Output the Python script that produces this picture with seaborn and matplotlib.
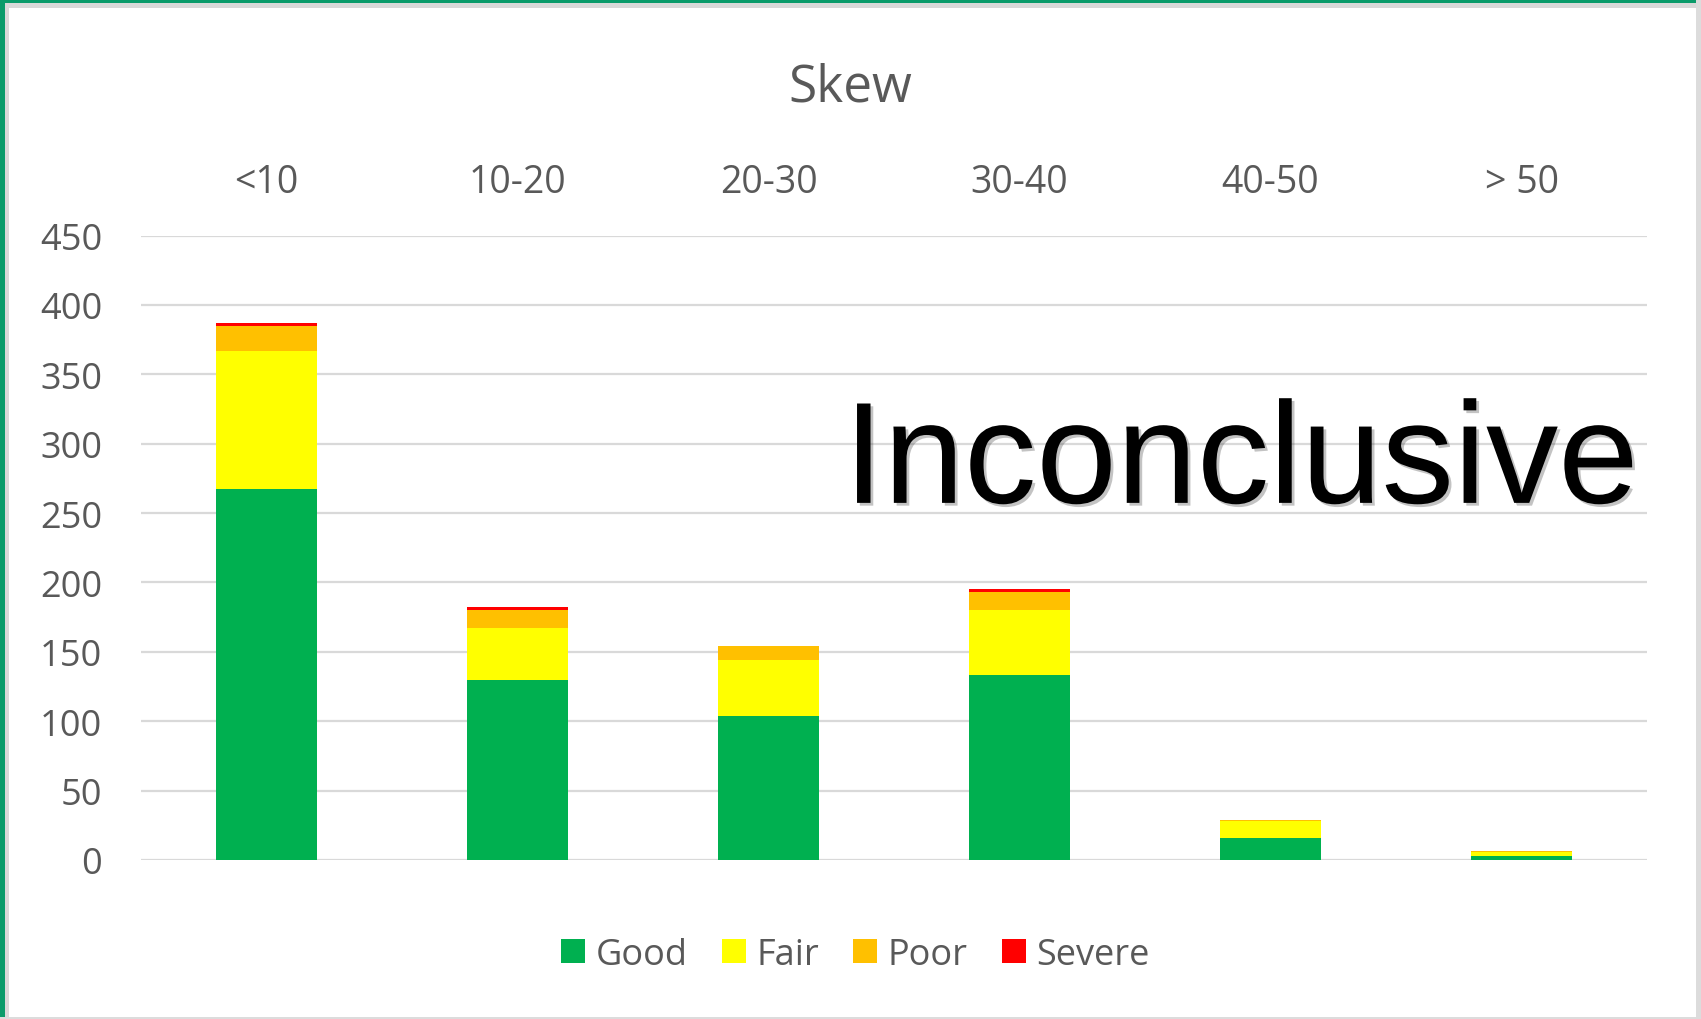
import matplotlib
matplotlib.use("Agg")
import matplotlib.pyplot as plt
import matplotlib.patheffects as pe
from matplotlib.patches import Rectangle, Patch
import numpy as np
import pandas as pd
import seaborn as sns

# data
categories = ['<10', '10-20', '20-30', '30-40', '40-50', '> 50']
good = [267, 130, 104, 133, 16, 3]
fair = [100, 37, 40, 47, 12, 3]
poor = [18, 13, 10, 13, 1, 0.5]
severe = [2, 2, 0, 2, 0, 0]

series_names = ['Good', 'Fair', 'Poor', 'Severe']
colours = ['#00B050', '#FFFF00', '#FFC000', '#FF0000']
text_colour = '#595959'
grid_colour = '#D9D9D9'

sns.set_style('white')
plt.rcParams['font.family'] = ['Open Sans', 'DejaVu Sans']

fig = plt.figure(figsize=(17.01, 10.20), dpi=100)
ax = fig.add_axes([0.0829, 0.1559, 0.8854, 0.6122])

df = pd.DataFrame({'cat': categories, 'Good': good, 'Fair': fair,
                   'Poor': poor, 'Severe': severe})
# cumulative heights, drawn tallest first so each layer covers the next
cum = df[series_names].cumsum(axis=1)
for name, col in reversed(list(zip(series_names, colours))):
    sns.barplot(x=df['cat'], y=cum[name], color=col, width=0.4,
                saturation=1, ax=ax, linewidth=0, order=categories)

ax.set_ylim(0, 450)
ax.set_xlim(-0.5, 5.5)
ax.set_yticks(np.arange(0, 451, 50))
ax.yaxis.grid(True, color=grid_colour, linewidth=1.6)
ax.xaxis.grid(False)
ax.set_axisbelow(True)
for s in ax.spines.values():
    s.set_visible(False)
ax.xaxis.tick_top()
ax.tick_params(axis='x', length=0, pad=25, labelsize=27, labelcolor=text_colour)
ax.tick_params(axis='y', length=0, pad=28, labelsize=26, labelcolor=text_colour)
ax.set_xlabel('')
ax.set_ylabel('')

fig.text(0.5, 0.914, 'Skew', ha='center', va='center', fontsize=37,
         color=text_colour)

handles = [Patch(facecolor=c, edgecolor='none') for c in colours]
fig.legend(handles, series_names, loc='center', bbox_to_anchor=(0.503, 0.063),
           ncol=4, frameon=False, fontsize=26, handlelength=0.65,
           handleheight=0.65, handletextpad=0.3, columnspacing=0.95,
           labelcolor=text_colour)

fig.text(0.496, 0.506, 'Inconclusive', ha='left', va='baseline',
         fontsize=104, color='black', family='Liberation Sans',
         path_effects=[pe.withSimplePatchShadow(offset=(2, -2), alpha=0.35,
                                                shadow_rgbFace='#555555')])

# window frame: green top/left, gray inner and right/bottom edges
W, H = 1701, 1020
def frame(x, y, w, h, c):
    fig.patches.append(Rectangle((x / W, 1 - (y + h) / H), w / W, h / H,
                                 transform=fig.transFigure, color=c,
                                 zorder=10, linewidth=0))
frame(0, 4, 9, H, '#D9D9D9')
frame(0, 4, W, 5, '#D9D9D9')
frame(0, 0, W, 4, '#0A9B6A')
frame(0, 0, 5, H, '#0A9B6A')
frame(W - 5, 0, 5, H, '#DCDCDC')
frame(0, H - 2, W, 2, '#DCDCDC')

fig.savefig('out.png', dpi=100)
